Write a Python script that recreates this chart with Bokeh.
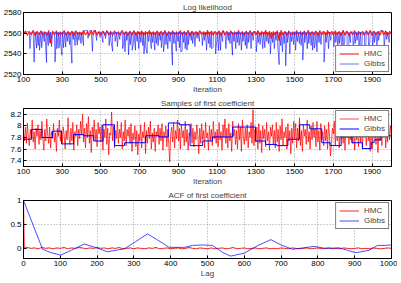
from bokeh.plotting import figure
from bokeh.layouts import column
from bokeh.models import FixedTicker, Legend, LegendItem, Range1d
from bokeh.embed import file_html
from bokeh.resources import INLINE

# ---------------- data ----------------
iterations = list(range(100, 2001, 10))
iterations_fine = list(range(100, 2001, 5))

hmc_loglik = [
    2559.0, 2562.2, 2557.8, 2561.6, 2558.4, 2562.8, 2557.6, 2561.9, 2558.7, 2562.4,
    2558.0, 2561.5, 2557.4, 2562.6, 2550.5, 2561.8, 2558.2, 2562.3, 2557.7, 2561.4,
    2558.5, 2562.7, 2557.9, 2561.7, 2558.3, 2562.1, 2557.5, 2562.5, 2558.6, 2561.3,
    2557.8, 2562.9, 2558.1, 2561.8, 2557.6, 2562.4, 2558.5, 2563.0, 2557.9, 2561.6,
    2558.4, 2562.2, 2557.7, 2562.6, 2558.0, 2561.9, 2557.5, 2562.3, 2558.7, 2561.5,
    2557.9, 2562.8, 2558.3, 2561.7, 2557.6, 2562.1, 2558.4, 2562.6, 2557.8, 2561.9,
    2558.2, 2562.4, 2557.5, 2561.8, 2558.6, 2562.9, 2557.9, 2561.6, 2558.1, 2562.3,
    2557.7, 2562.0, 2558.4, 2562.7, 2557.3, 2561.8, 2558.0, 2562.4, 2557.8, 2561.5,
    2558.5, 2562.6, 2557.9, 2561.9, 2558.2, 2562.8, 2557.6, 2562.1, 2558.3, 2561.7,
    2557.8, 2562.5, 2558.6, 2561.6, 2557.5, 2562.9, 2558.1, 2562.2, 2557.9, 2561.8,
    2558.4, 2562.3, 2557.6, 2562.7, 2558.0, 2561.9, 2557.7, 2562.4, 2558.5, 2561.6,
    2557.9, 2562.8, 2558.2, 2561.7, 2557.4, 2562.2, 2558.6, 2562.6, 2557.8, 2562.0,
    2558.3, 2562.5, 2557.7, 2561.8, 2558.1, 2562.9, 2557.5, 2562.1, 2554.5, 2561.7,
    2558.0, 2562.4, 2552.8, 2562.7, 2558.4, 2561.9, 2557.6, 2562.3, 2558.2, 2561.5,
    2557.8, 2562.6, 2558.5, 2561.8, 2557.5, 2562.2, 2558.0, 2562.8, 2557.9, 2561.6,
    2558.3, 2562.1, 2557.6, 2562.5, 2558.1, 2561.9, 2557.4, 2562.7, 2558.5, 2561.7,
    2557.9, 2562.4, 2558.2, 2561.8, 2557.6, 2562.9, 2558.0, 2562.2, 2557.7, 2561.6,
    2558.4, 2562.6, 2557.8, 2562.0, 2558.3, 2561.8, 2557.5, 2562.5, 2558.1, 2562.8,
    2557.7, 2562.2, 2558.6, 2561.9, 2557.9, 2562.7, 2558.2, 2562.1, 2557.6, 2561.8,
    2558.8,
]

# Gibbs log likelihood: level between the drops (every 10 iterations) ...
gibbs_loglik_base = [
    2561.0, 2560.6, 2561.4, 2561.2, 2561.0, 2560.8, 2561.3, 2561.0, 2560.7, 2561.2,
    2561.5, 2561.0, 2560.8, 2561.2, 2561.0, 2561.3, 2560.9, 2561.1, 2561.0, 2560.8,
    2561.2, 2561.0, 2560.7, 2561.3, 2561.0, 2561.2, 2561.4, 2560.9, 2561.1, 2561.0,
    2560.8, 2561.5, 2562.4, 2562.6, 2562.3, 2562.5, 2562.2, 2562.4, 2561.0, 2560.7,
    2561.2, 2561.0, 2560.8, 2561.3, 2561.0, 2561.2, 2560.9, 2561.1, 2561.0, 2560.8,
    2561.2, 2561.0, 2560.7, 2561.3, 2561.0, 2561.1, 2560.8, 2561.2, 2561.0, 2560.9,
    2561.3, 2561.0, 2560.8, 2561.2, 2561.0, 2561.3, 2560.9, 2561.1, 2561.0, 2560.8,
    2561.2, 2560.9, 2561.0, 2561.3, 2560.8, 2561.1, 2561.0, 2561.2, 2560.9, 2561.0,
    2561.3, 2561.0, 2560.8, 2561.2, 2561.0, 2561.1, 2560.9, 2561.3, 2561.0, 2560.8,
    2561.3, 2560.9, 2561.0, 2561.1, 2561.0, 2561.2, 2560.8, 2561.0, 2561.1, 2560.9,
    2561.2, 2561.0, 2560.8, 2561.3, 2561.0, 2561.2, 2560.9, 2561.1, 2561.0, 2560.8,
    2561.2, 2561.0, 2560.7, 2561.3, 2561.0, 2561.1, 2560.8, 2561.2, 2561.0, 2560.9,
    2561.3, 2561.0, 2560.8, 2561.2, 2561.0, 2561.3, 2560.9, 2561.1, 2561.0, 2560.8,
    2561.2, 2560.9, 2561.0, 2561.3, 2560.8, 2561.1, 2561.0, 2561.2, 2560.9, 2561.0,
    2561.3, 2561.0, 2560.8, 2561.2, 2561.0, 2561.1, 2560.9, 2561.3, 2561.0, 2560.8,
    2561.3, 2560.9, 2561.0, 2561.1, 2561.0, 2561.2, 2560.8, 2561.0, 2561.1, 2560.9,
    2561.2, 2561.0, 2560.8, 2561.3, 2561.0, 2561.2, 2560.9, 2561.1, 2561.0, 2560.8,
    2561.2, 2561.0, 2560.7, 2561.3, 2561.0, 2561.1, 2560.8, 2561.2, 2561.0, 2560.9,
    2561.3, 2561.0, 2560.8, 2561.2, 2562.2, 2562.4, 2562.0, 2562.3, 2561.0, 2560.8,
    2561.1,
]
# ... and the sharp drops of the Gibbs log likelihood
gibbs_drop_iter = [
    133, 155, 168, 176, 183, 194, 207, 219, 228, 237, 245, 263, 272, 283, 291, 298,
    307, 318, 326, 338, 350, 357, 366, 378, 386, 397, 410, 433, 456, 478, 495, 510,
    523, 542, 551, 560, 573, 585, 597, 612, 617, 624, 633, 642, 652, 661, 668, 678,
    687, 695, 706, 716, 722, 731, 738, 746, 760, 767, 778, 786, 795, 806, 812, 823,
    828, 836, 845, 856, 869, 877, 889, 898, 906, 912, 919, 927, 935, 944, 951, 966,
    973, 985, 996, 1008, 1023, 1033, 1045, 1056, 1063, 1071, 1079, 1092, 1098, 1108,
    1118, 1128, 1145, 1158, 1166, 1179, 1187, 1196, 1205, 1213, 1225, 1233, 1245,
    1253, 1262, 1275, 1286, 1302, 1312, 1321, 1335, 1346, 1356, 1365, 1375, 1386,
    1395, 1404, 1412, 1420, 1428, 1437, 1446, 1454, 1462, 1475, 1484, 1494, 1505,
    1514, 1524, 1533, 1542, 1552, 1565, 1573, 1585, 1593, 1602, 1608, 1615, 1626,
    1636, 1652, 1662, 1675, 1686, 1702, 1712, 1722, 1731, 1742, 1752, 1758, 1772,
    1780, 1788, 1802, 1812, 1822, 1832, 1843, 1848, 1862, 1868, 1882, 1888, 1902,
    1912, 1925, 1934, 1962, 1975, 1988,
]
gibbs_drop_value = [
    2545, 2532, 2545.5, 2548, 2543.5, 2546, 2552, 2531.6, 2548, 2550, 2547, 2532,
    2545, 2545.5, 2551, 2538.7, 2546, 2546.5, 2552, 2549, 2531, 2554, 2548, 2548.5,
    2553, 2550, 2548, 2555, 2542.5, 2553, 2556, 2551, 2555, 2548, 2553, 2542.5, 2552,
    2547, 2554, 2545, 2550, 2542, 2553, 2539, 2549, 2543.5, 2551, 2543.5, 2552, 2545,
    2551, 2548, 2540, 2547, 2540.5, 2552, 2545, 2551, 2543.5, 2550, 2548, 2553, 2546,
    2542, 2551, 2549, 2545, 2552, 2529, 2550, 2542.5, 2552, 2546, 2542, 2542.5, 2551,
    2545, 2543.5, 2549, 2553, 2550, 2547, 2555, 2552, 2548, 2553, 2543.5, 2550, 2546,
    2545, 2546, 2540, 2553, 2543, 2543.5, 2552, 2545, 2553, 2550, 2538.7, 2552, 2545,
    2551, 2548, 2543.5, 2552, 2548, 2545, 2551, 2545, 2553, 2542, 2551, 2549, 2545,
    2546, 2552, 2550, 2540, 2551, 2545, 2553, 2550, 2529.6, 2548, 2542, 2550, 2528.4,
    2551, 2540, 2552, 2549, 2543.5, 2552, 2550, 2548, 2534, 2551, 2545, 2550, 2548,
    2543.5, 2545.5, 2552, 2542, 2551, 2549, 2532, 2551, 2545, 2553, 2547, 2551, 2545,
    2550, 2541, 2544, 2552, 2540, 2547, 2551, 2543, 2550, 2553, 2545, 2542, 2550,
    2542, 2551, 2544, 2552, 2545, 2551, 2548, 2553, 2546, 2554, 2551,
]

hmc_coef = [
    7.86, 7.74, 7.98, 7.70, 8.05, 7.80, 7.66, 7.94, 7.78, 8.10, 7.72, 7.90, 7.60, 7.96, 7.82, 8.02, 7.68, 7.92, 7.76, 8.08,
    7.80, 7.58, 7.94, 7.74, 8.12, 7.84, 7.70, 7.98, 7.62, 7.90, 7.78, 8.04, 7.72, 7.88, 7.56, 7.96, 7.82, 8.10, 7.74, 7.92,
    7.70, 7.98, 7.84, 7.60, 7.92, 7.76, 8.14, 7.80, 7.68, 7.96, 7.74, 8.06, 7.58, 7.90, 7.82, 8.02, 7.66, 7.94, 7.78, 8.08,
    7.84, 8.20, 7.72, 7.96, 7.62, 8.04, 7.80, 8.16, 7.70, 7.92, 7.54, 7.98, 7.82, 8.10, 7.74, 7.94, 7.64, 8.06, 7.86, 7.98,
    7.72, 8.02, 7.58, 7.94, 7.80, 8.12, 7.68, 7.96, 7.50, 7.88, 7.84, 8.24, 7.74, 8.00, 7.62, 7.92, 7.78, 8.08, 7.70, 7.94,
    7.80, 8.06, 7.60, 7.90, 7.74, 8.10, 7.66, 7.94, 7.82, 7.98, 7.70, 8.04, 7.56, 7.88, 7.76, 8.00, 7.64, 7.92, 7.50, 7.86,
    7.74, 8.02, 7.62, 7.90, 7.80, 8.06, 7.52, 7.92, 7.70, 7.98, 7.78, 8.08, 7.60, 7.88, 7.72, 7.96, 7.56, 7.90, 7.82, 8.02,
    7.68, 7.96, 7.74, 8.04, 7.58, 7.90, 7.80, 8.00, 7.64, 7.94, 7.70, 7.38, 7.86, 7.98, 7.72, 8.06, 7.62, 7.92, 7.78, 8.10,
    7.74, 7.96, 7.60, 8.02, 7.80, 7.92, 7.66, 8.08, 7.72, 7.94, 7.58, 7.88, 7.82, 8.04, 7.70, 7.96, 7.64, 7.90, 7.76, 8.02,
    7.84, 7.52, 7.96, 7.70, 8.04, 7.76, 7.92, 7.62, 8.06, 7.80, 7.88, 7.58, 8.00, 7.74, 7.94, 7.66, 8.08, 7.78, 7.90, 7.70,
    7.94, 7.64, 8.06, 7.76, 7.90, 7.58, 8.02, 7.80, 8.12, 7.70, 7.96, 7.62, 8.04, 7.74, 7.88, 7.56, 8.08, 7.82, 7.94, 7.68,
    7.92, 7.60, 8.04, 7.76, 7.98, 7.56, 8.10, 7.82, 7.68, 7.96, 7.74, 8.02, 7.62, 7.90, 7.80, 8.06, 7.70, 8.28, 7.66, 7.94,
    7.72, 7.98, 7.60, 8.04, 7.70, 7.92, 7.54, 8.00, 7.78, 7.94, 7.64, 8.06, 7.74, 7.90, 7.58, 7.98, 7.82, 8.02, 7.68, 7.92,
    7.62, 8.06, 7.72, 7.94, 7.56, 8.00, 7.76, 8.12, 7.66, 7.90, 7.80, 7.98, 7.60, 8.04, 7.74, 7.92, 7.52, 7.96, 7.70, 8.08,
    7.78, 8.04, 7.62, 7.96, 7.74, 8.14, 7.66, 7.92, 7.56, 8.02, 7.82, 7.94, 7.68, 8.10, 7.72, 7.90, 7.60, 8.00, 7.76, 8.06,
    7.80, 7.96, 7.64, 8.08, 7.72, 7.92, 7.58, 8.04, 7.76, 7.90, 7.66, 8.00, 7.74, 7.94, 7.60, 8.06, 7.82, 7.48, 7.70, 7.96,
    7.86, 8.08, 7.66, 7.98, 7.74, 8.20, 7.62, 7.94, 7.78, 8.04, 7.70, 7.92, 7.58, 8.02, 7.80, 8.10, 7.68, 7.96, 7.76, 8.06,
    7.70, 7.96, 7.58, 8.04, 7.76, 7.90, 7.64, 8.10, 7.72, 7.94, 7.60, 8.00, 7.80, 7.92, 7.66, 8.06, 7.74, 7.88, 7.56, 7.98,
    7.60, 8.02, 7.78, 7.94, 7.68, 8.06, 7.54, 7.90, 7.74, 8.00, 7.66, 7.96, 7.80, 8.08, 7.62, 7.92, 7.72, 8.04, 7.76, 8.00,
    7.84,
]

gibbs_step_start = [100, 142, 195, 250, 296, 358, 410, 462, 510, 570, 622, 730, 800,
                    848, 905, 960, 1025, 1076, 1180, 1298, 1350, 1408, 1465, 1525,
                    1578, 1640, 1683, 1740, 1795, 1850, 1895, 1910, 1945, 2000]
gibbs_coef = [7.77, 7.94, 7.80, 7.91, 7.69, 7.85, 7.83, 7.74, 8.02, 7.66, 7.71, 7.83,
              7.81, 8.05, 8.02, 7.66, 7.74, 7.81, 7.98, 7.74, 7.68, 7.66, 7.77, 8.02,
              7.95, 7.71, 7.66, 7.81, 7.71, 7.61, 7.71, 7.76, 7.83, 7.83]

hmc_acf_lag = [0, 2] + list(range(10, 1001, 10))
hmc_acf = [1.0, 0.03,
    0.03, 0.01, 0.02, 0.00, 0.03, 0.01, 0.02, 0.00, 0.02, 0.01,
    0.03, 0.00, 0.02, 0.01, 0.03, 0.02, 0.00, 0.02, 0.01, 0.03,
    0.01, 0.02, 0.00, 0.02, 0.01, 0.03, 0.00, 0.01, 0.02, 0.00,
    0.02, 0.01, 0.00, 0.02, 0.01, 0.03, 0.00, 0.01, 0.02, 0.00,
    0.01, 0.02, 0.00, 0.01, 0.03, 0.01, 0.00, 0.02, 0.01, 0.00,
    0.02, 0.00, 0.01, 0.02, 0.00, 0.01, 0.03, 0.00, 0.01, 0.02,
    0.00, 0.01, 0.02, 0.00, 0.01, 0.02, 0.00, 0.01, 0.00, 0.02,
    0.01, 0.00, 0.02, 0.01, 0.00, 0.01, 0.02, 0.00, 0.01, 0.02,
    0.00, 0.01, 0.02, 0.00, 0.01, 0.00, 0.02, 0.01, 0.00, 0.01,
    0.02, 0.00, 0.01, 0.00, 0.02, 0.01, 0.00, 0.01, 0.02, 0.01,
]

gibbs_acf_lag = [0, 52, 75, 101, 130, 165, 195, 228, 274, 305, 337, 365, 396, 437,
                 459, 486, 514, 540, 563, 600, 635, 672, 700, 731, 760, 790, 820,
                 858, 880, 903, 939, 962, 980, 1000]
gibbs_acf = [1.0, -0.01, -0.08, -0.13, -0.03, 0.10, 0.03, -0.06, 0.0, 0.15, 0.31,
             0.18, 0.03, 0.03, 0.07, 0.08, 0.07, -0.07, -0.15, -0.09, 0.06, 0.19,
             0.08, -0.01, 0.02, 0.05, 0.01, 0.02, -0.03, -0.08, -0.03, 0.07, 0.07,
             0.08]

iter_ticks = [100, 300, 500, 700, 900, 1100, 1300, 1500, 1700, 1900]
lag_ticks = [0, 100, 200, 300, 400, 500, 600, 700, 800, 900, 1000]
ll_ticks = [2520, 2540, 2560, 2580]
coef_ticks = [7.4, 7.6, 7.8, 8.0, 8.2]
acf_ticks = [0, 0.5, 1]

# Gibbs log-likelihood trace: levels and drops merged in iteration order
_gl = sorted(zip(iterations + gibbs_drop_iter, gibbs_loglik_base + gibbs_drop_value))
gibbs_ll_x = [a for a, _ in _gl]
gibbs_ll_y = [b for _, b in _gl]

# ---------------- styling helpers ----------------
FONT = "Liberation Sans"
FS = "8px"
RED = "#ff0000"
BLUE = "#0000ff"


def make_fig(title, xr, yr, xticks, yticks, xlabel, frame_h, top=0):
    p = figure(frame_width=368, frame_height=frame_h,
               x_range=Range1d(*xr), y_range=Range1d(*yr),
               output_backend="svg", toolbar_location=None,
               min_border_left=21, min_border_right=8,
               min_border_top=top, min_border_bottom=0)
    p.title.text = title
    p.title.align = "center"
    p.title.text_font = FONT
    p.title.text_font_size = FS
    p.title.text_font_style = "normal"
    p.title.standoff = 1
    p.title.offset = 0
    p.outline_line_color = "black"
    p.outline_line_width = 1
    p.outline_line_alpha = 1
    for ax in (p.xaxis[0], p.yaxis[0]):
        ax.axis_line_color = "black"
        ax.major_tick_line_color = "black"
        ax.major_tick_in = 3
        ax.major_tick_out = 0
        ax.minor_tick_line_color = None
        ax.major_label_text_font = FONT
        ax.major_label_text_font_size = FS
        ax.major_label_text_color = "black"
        ax.major_label_standoff = 2
        ax.axis_label_text_font = FONT
        ax.axis_label_text_font_size = FS
        ax.axis_label_text_font_style = "normal"
        ax.axis_label_standoff = 0
    p.xaxis.ticker = FixedTicker(ticks=xticks)
    p.yaxis.ticker = FixedTicker(ticks=yticks)
    p.xaxis.axis_label = xlabel
    p.xgrid.ticker = FixedTicker(ticks=xticks)
    p.ygrid.ticker = FixedTicker(ticks=yticks)
    for g in (p.xgrid[0], p.ygrid[0]):
        g.grid_line_color = "#a0a0a0"
        g.grid_line_dash = "1 2"
        g.grid_line_width = 1
    return p


def add_legend(p, r_hmc, r_gibbs, loc):
    lg = Legend(items=[LegendItem(label="HMC", renderers=[r_hmc]),
                       LegendItem(label="Gibbs", renderers=[r_gibbs])],
                location=loc)
    lg.border_line_color = "black"
    lg.border_line_width = 1
    lg.background_fill_color = "white"
    lg.background_fill_alpha = 1
    lg.label_text_font = FONT
    lg.label_text_font_size = FS
    lg.glyph_width = 20
    lg.glyph_height = 9
    lg.label_height = 9
    lg.label_standoff = 5
    lg.spacing = 1
    lg.padding = 3
    lg.margin = 2
    p.add_layout(lg)


# ---------------- panel 1 ----------------
p1 = make_fig("Log likelihood", (100, 2000), (2520, 2580), iter_ticks, ll_ticks,
              "Iteration", 62, top=2)
rb1 = p1.line(gibbs_ll_x, gibbs_ll_y, line_color=BLUE, line_width=0.8, line_alpha=0.7)
rr1 = p1.line(iterations, hmc_loglik, line_color=RED, line_width=1.0)
add_legend(p1, rr1, rb1, "bottom_right")

# ---------------- panel 2 ----------------
p2 = make_fig("Samples of first coefficient", (100, 2000), (7.3, 8.3), iter_ticks,
              coef_ticks, "Iteration", 58)
rr2 = p2.line(iterations_fine, hmc_coef, line_color=RED, line_width=0.8, line_alpha=0.9)
rb2 = p2.step(gibbs_step_start, gibbs_coef, mode="after", line_color=BLUE,
              line_width=1.0)
add_legend(p2, rr2, rb2, "top_right")

# ---------------- panel 3 ----------------
p3 = make_fig("ACF of first coefficient", (0, 1000), (-0.2, 1), lag_ticks, acf_ticks,
              "Lag", 58)
rr3 = p3.line(hmc_acf_lag, hmc_acf, line_color=RED, line_width=1, line_alpha=0.85)
rb3 = p3.line(gibbs_acf_lag, gibbs_acf, line_color=BLUE, line_width=1, line_alpha=0.7)
add_legend(p3, rr3, rb3, "top_right")

layout = column(p1, p2, p3, spacing=0)

open("out.html", "w").write(file_html(layout, INLINE))
